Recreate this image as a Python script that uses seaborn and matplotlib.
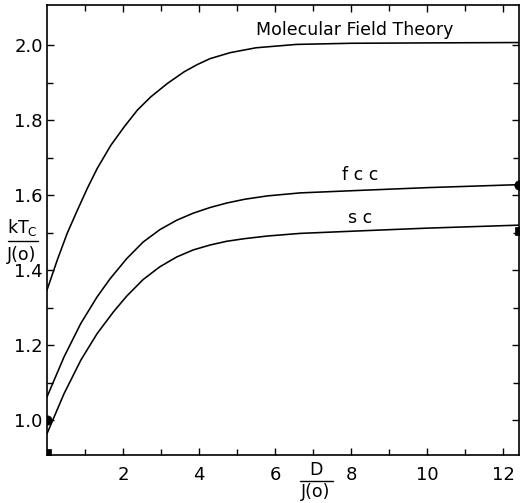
import numpy as np
import pandas as pd
import matplotlib
matplotlib.use("Agg")
import matplotlib.pyplot as plt
import seaborn as sns
from matplotlib.ticker import FixedLocator

# ---- data ----
mft_D = [0.0, 0.27, 0.53, 0.80, 1.06, 1.32, 1.68, 2.03, 2.38, 2.73, 3.17, 3.61, 3.95, 4.29, 4.82, 5.5, 6.57, 8.0, 10.0, 12.42]
mft_T = [1.347, 1.427, 1.498, 1.560, 1.618, 1.671, 1.733, 1.782, 1.827, 1.862, 1.898, 1.929, 1.948, 1.964, 1.980, 1.993, 2.002, 2.005, 2.006, 2.007]

fcc_D = [0.0, 0.45, 0.89, 1.32, 1.66, 2.10, 2.53, 2.97, 3.41, 3.85, 4.29, 4.73, 5.2, 5.8, 6.66, 8.3, 10.0, 12.42]
fcc_T = [1.062, 1.169, 1.258, 1.329, 1.377, 1.431, 1.475, 1.508, 1.533, 1.552, 1.567, 1.579, 1.589, 1.598, 1.606, 1.613, 1.620, 1.628]

sc_D = [0.0, 0.45, 0.89, 1.32, 1.75, 2.10, 2.53, 2.97, 3.41, 3.85, 4.29, 4.73, 5.2, 5.8, 6.66, 8.3, 10.0, 12.42]
sc_T = [0.964, 1.071, 1.160, 1.231, 1.289, 1.331, 1.375, 1.409, 1.435, 1.454, 1.467, 1.477, 1.484, 1.491, 1.498, 1.505, 1.512, 1.520]

circle_D = [0.0, 12.42]
circle_T = [1.0, 1.628]
square_D = [0.0, 12.42]
square_T = [0.912, 1.505]

x_ticks = [2, 4, 6, 8, 10, 12]
y_ticks = [1.0, 1.2, 1.4, 1.6, 1.8, 2.0]

df = pd.concat([
    pd.DataFrame({"D": mft_D, "T": mft_T, "curve": "Molecular Field Theory"}),
    pd.DataFrame({"D": fcc_D, "T": fcc_T, "curve": "fcc"}),
    pd.DataFrame({"D": sc_D, "T": sc_T, "curve": "sc"}),
])

sns.set_theme(style="ticks")
plt.rcParams['font.family'] = ['DejaVu Sans']
plt.rcParams.update({"text.color": "black", "xtick.color": "black",
                     "ytick.color": "black", "axes.labelcolor": "black",
                     "axes.edgecolor": "black"})

fig = plt.figure(figsize=(5.2, 5.03), dpi=100)
ax = fig.add_axes([0.0904, 0.0954, 0.9076, 0.8946])

sns.lineplot(data=df, x="D", y="T", units="curve", estimator=None,
             color="black", linewidth=1.15, sort=False, ax=ax, legend=False)
sns.scatterplot(x=circle_D, y=circle_T, marker="o", color="black", s=45,
                edgecolor="black", ax=ax, legend=False)
sns.scatterplot(x=square_D, y=square_T, marker="s", color="black", s=40,
                edgecolor="black", ax=ax, legend=False)

ax.set_xlim(0, 12.42)
ax.set_ylim(0.907, 2.107)
ax.xaxis.set_major_locator(FixedLocator(x_ticks))
ax.xaxis.set_minor_locator(FixedLocator([1, 3, 5, 7, 9, 11]))
ax.yaxis.set_major_locator(FixedLocator(y_ticks))
ax.yaxis.set_minor_locator(FixedLocator([1.1, 1.3, 1.5, 1.7, 1.9]))
ax.set_xticklabels([str(v) for v in x_ticks])
ax.set_yticklabels([f"{v:.1f}" for v in y_ticks])
ax.tick_params(which="both", direction="in", top=True, right=True,
               color="black", labelcolor="black", width=1.0, labelsize=13)
ax.tick_params(which="major", length=5)
ax.tick_params(which="minor", length=4)
ax.tick_params(axis="x", pad=8)
ax.tick_params(axis="y", pad=3)
for s in ax.spines.values():
    s.set_linewidth(1.2)
    s.set_color("black")
ax.set_xlabel("")
ax.set_ylabel("")

ax.text(8.1, 2.04, "Molecular Field Theory", fontsize=12.5, ha="center", va="center", color="black")
ax.text(8.25, 1.653, "f c c", fontsize=12.5, ha="center", va="center", color="black")
ax.text(8.25, 1.539, "s c", fontsize=12.5, ha="center", va="center", color="black")

# fraction-style axis labels
fig.text(22 / 520, 1 - 228 / 503, r"$\mathregular{kT_C}$", fontsize=12.5, ha="center", va="center", color="black")
fig.text(22 / 520, 1 - 255 / 503, "J(o)", fontsize=12.5, ha="center", va="center", color="black")
fig.add_artist(plt.Line2D([8 / 520, 38 / 520], [1 - 241 / 503, 1 - 241 / 503], color="black", lw=1.0))
fig.text(316 / 520, 1 - 470 / 503, "D", fontsize=12.5, ha="center", va="center", color="black")
fig.text(316 / 520, 1 - 492 / 503, "J(o)", fontsize=12.5, ha="center", va="center", color="black")
fig.add_artist(plt.Line2D([300 / 520, 333 / 520], [1 - 481 / 503, 1 - 481 / 503], color="black", lw=1.0))

fig.savefig("out.png", dpi=100)
